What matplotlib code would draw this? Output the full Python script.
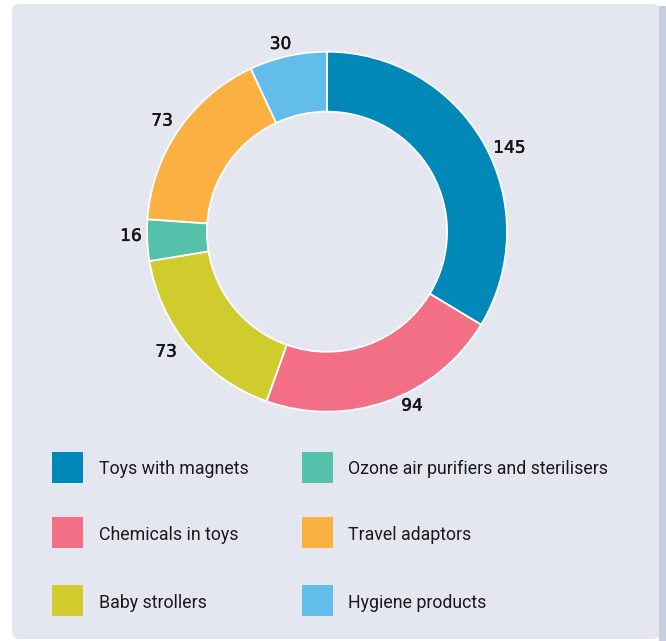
import numpy as np
import matplotlib
matplotlib.use("Agg")
import matplotlib.pyplot as plt
import matplotlib.patheffects as pe
from matplotlib.patches import FancyBboxPatch, Rectangle

# Data
categories = [
    "Toys with magnets",
    "Chemicals in toys",
    "Baby strollers",
    "Ozone air purifiers and sterilisers",
    "Travel adaptors",
    "Hygiene products",
]
values = [145, 94, 73, 16, 73, 30]
colors = ["#0088b8", "#f36f85", "#d0cc2e", "#55c1ab", "#fbb042", "#63bdeb"]

# Legend layout: (column, row) for each category
legend_slots = [(0, 0), (0, 1), (0, 2), (1, 0), (1, 1), (1, 2)]

W, H = 666, 641
DPI = 100
fig = plt.figure(figsize=(W / DPI, H / DPI), dpi=DPI)
fig.patch.set_facecolor("white")


def fx(px):
    return px / W


def fy(py):
    return 1 - py / H


# Panel background
panel = FancyBboxPatch(
    (fx(12), fy(639)), fx(660 - 12), (639 - 4) / H,
    boxstyle="round,pad=0,rounding_size=0.012",
    transform=fig.transFigure, facecolor="#e4e7f0", edgecolor="none", zorder=0,
)
fig.patches.append(panel)
strip = Rectangle((fx(659), 0), fx(7), fy(6), transform=fig.transFigure,
                  facecolor="#c7cedd", edgecolor="none", zorder=0.5)
fig.patches.append(strip)

# Donut chart
R_PX = 180
cx, cy = 327, 231.7
half = R_PX * 1.25
ax = fig.add_axes([fx(cx - half), fy(cy + half), 2 * half / W, 2 * half / H])
ax.set_zorder(3)
ax.axis("off")
ax.patch.set_alpha(0)

wedges, _ = ax.pie(
    values, colors=colors, startangle=90, counterclock=False, radius=1.0,
    wedgeprops=dict(width=0.333, edgecolor="white", linewidth=1.3),
)
ax.set_xlim(-1.25, 1.25)
ax.set_ylim(-1.25, 1.25)
ax.set_aspect("equal")

# Value labels outside the ring
label_shift_deg = [-4.7, 6.4, -3.2, -1.5, 0.5, 1.4]
label_radius = [1.115, 1.075, 1.115, 1.09, 1.105, 1.075]
for w, v, d, r in zip(wedges, values, label_shift_deg, label_radius):
    mid = np.deg2rad((w.theta1 + w.theta2) / 2 + d)
    ax.text(r * np.cos(mid), r * np.sin(mid), str(v), ha="center", va="center",
            fontsize=12.2, color="#141414", family="DejaVu Sans",
            path_effects=[pe.withStroke(linewidth=0.35, foreground="#141414")])

# Legend
col_sq_x = [52, 302]
col_txt_x = [99, 348]
row_cy = [467, 532, 600]
SQ = 31
for (c, r), name, col in zip(legend_slots, categories, colors):
    y0 = row_cy[r]
    fig.patches.append(Rectangle((fx(col_sq_x[c]), fy(y0 + SQ / 2)), SQ / W, SQ / H,
                                 transform=fig.transFigure, facecolor=col,
                                 edgecolor="none", zorder=2))
    fig.text(fx(col_txt_x[c]), fy(y0 + 7.5), name, ha="left", va="baseline",
             fontsize=12.8, color="#1a1a1a", family=["Roboto", "DejaVu Sans"])

fig.savefig("out.png", dpi=DPI, facecolor=fig.get_facecolor())
